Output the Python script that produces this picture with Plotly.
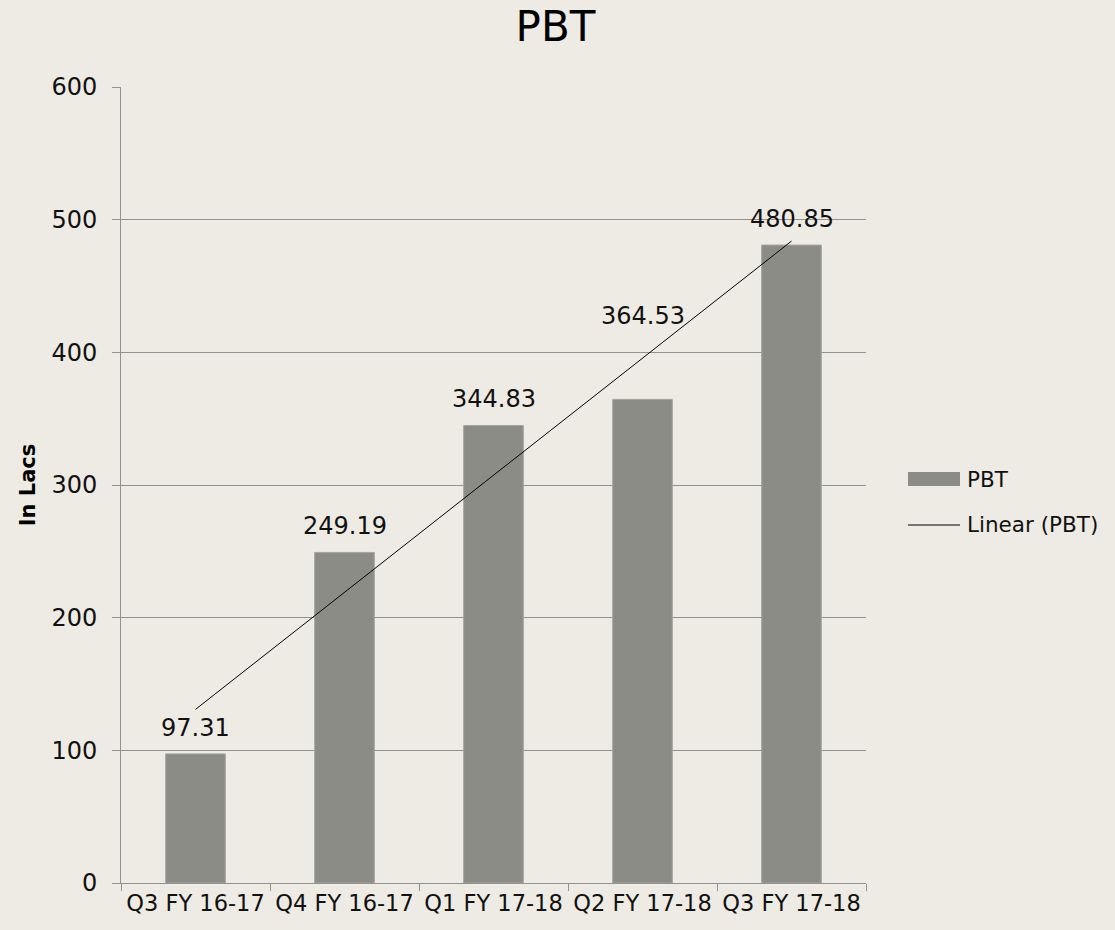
import numpy as np
import plotly.graph_objects as go

categories = ["Q3 FY 16-17", "Q4 FY 16-17", "Q1 FY 17-18", "Q2 FY 17-18", "Q3 FY 17-18"]
pbt = [97.31, 249.19, 344.83, 364.53, 480.85]
y_ticks = [0, 100, 200, 300, 400, 500, 600]
series_name = "PBT"
trend_name = "Linear (PBT)"

# label vertical offsets in px (Excel moved one label to avoid the trendline)
label_shift = [26, 26, 27, 83, 26]

W, H = 1115, 930
ML, MR, MT, MB = 121, 249, 87, 47
BG = "#EEEBE4"
BAR = "#8B8C85"
GRID = "#929290"
FONT = "DejaVu Sans, sans-serif"
TXT = "#111111"

idx = np.arange(len(pbt))
slope, intercept = np.polyfit(idx, pbt, 1)
trend = slope * idx + intercept

fig = go.Figure()
fig.add_trace(go.Bar(
    x=categories, y=pbt, name=series_name,
    marker=dict(color=BAR, line=dict(color="#A3A49E", width=1)),
    width=0.4, showlegend=False,
))
fig.add_trace(go.Scatter(
    x=categories, y=trend, name=trend_name, mode="lines",
    line=dict(color="#000000", width=1), showlegend=False,
))

for c, v, s in zip(categories, pbt, label_shift):
    fig.add_annotation(x=c, y=v, text=f"{v:.2f}", showarrow=False,
                       yanchor="middle", yshift=s,
                       font=dict(size=24, color=TXT, family=FONT))

# legend drawn in pixel space (converted to paper coordinates)
pw, ph = W - ML - MR, H - MT - MB
def px(x):
    return (x - ML) / pw
def py(y):
    return (H - MB - y) / ph

fig.add_shape(type="rect", xref="paper", yref="paper",
              x0=px(908), x1=px(960), y0=py(486), y1=py(472),
              fillcolor=BAR, line=dict(width=0))
fig.add_shape(type="line", xref="paper", yref="paper",
              x0=px(908), x1=px(960), y0=py(525), y1=py(525),
              line=dict(color="#000000", width=1))
fig.add_annotation(xref="paper", yref="paper", x=px(965), y=py(479),
                   xanchor="left", yanchor="middle", text=series_name,
                   showarrow=False, font=dict(size=21.5, color=TXT, family=FONT))
fig.add_annotation(xref="paper", yref="paper", x=px(965), y=py(524),
                   xanchor="left", yanchor="middle", text=trend_name,
                   showarrow=False, font=dict(size=21.5, color=TXT, family=FONT))

fig.update_layout(
    width=W, height=H,
    paper_bgcolor=BG, plot_bgcolor=BG,
    margin=dict(l=ML, r=MR, t=MT, b=MB),
    title=dict(text="PBT", x=555.5 / W, xref="container", xanchor="center",
               y=1 - 26.5 / H, yanchor="middle",
               font=dict(size=42, color="#000000", family=FONT)),
    font=dict(family=FONT, color=TXT),
    showlegend=False,
    bargap=0.6,
)
fig.update_xaxes(
    type="category", showline=True, linecolor=GRID, linewidth=1,
    ticks="outside", tickson="boundaries", ticklen=7, tickcolor=GRID,
    tickfont=dict(size=22.5, color=TXT, family=FONT),
    showgrid=False, fixedrange=True,
)
fig.update_yaxes(
    range=[0, 600], tickvals=y_ticks, showline=True, linecolor=GRID, linewidth=1,
    ticks="outside", ticklen=8, tickcolor=GRID, ticklabelstandoff=10,
    showgrid=True, gridcolor=GRID, gridwidth=1, zeroline=False,
    tickfont=dict(size=24, color=TXT, family=FONT),
    title=dict(text="<b>In Lacs</b>", font=dict(size=21, color="#000000", family=FONT),
               standoff=10),
)

fig.write_html("out.html", config={"displayModeBar": False},
               post_script="document.body.style.margin='0';")
